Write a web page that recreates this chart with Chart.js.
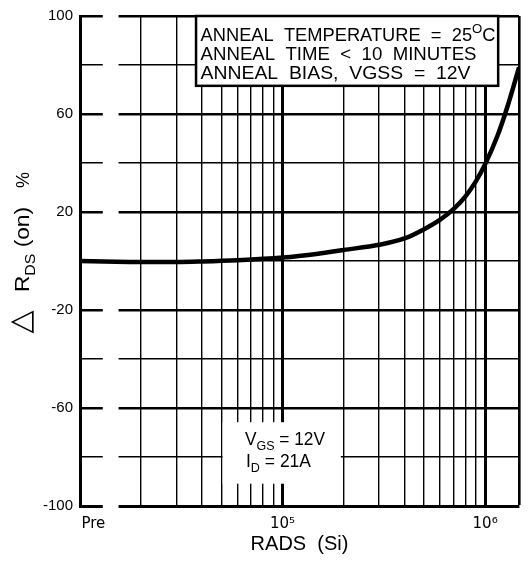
<!DOCTYPE html>
<html>
<head>
<meta charset="utf-8">
<script src="https://cdn.jsdelivr.net/npm/chart.js@4.4.1/dist/chart.umd.min.js"></script>
<style>
  html, body { margin: 0; padding: 0; background: #fff; }
  #wrap { width: 528px; height: 562px; }
</style>
</head>
<body>
<div id="wrap"><canvas id="chart"></canvas></div>
<script>
// curve: total dose (rads Si) vs change in RDS(on), %
const radsSi = [1e4, 1.5e4, 2e4, 3e4, 4e4, 6e4, 1e5, 1.5e5, 2e5, 3e5, 4e5, 5e5, 6e5, 7e5, 8e5, 9e5, 1e6, 1.15e6, 1.3e6, 1.47e6];
const deltaRdsOn = [0, -0.3, -0.4, -0.4, -0.2, 0.3, 1.4, 3, 4.5, 6.6, 9.2, 13, 16.9, 21.3, 26.4, 32.5, 39.5, 51, 64, 79];

// axes
const xRange = [1e4, 1.47e6];
const xLabelValues = [1.164e4, 1e5, 1e6];
const xLabelTexts = ["Pre", "10\u2075", "10\u2076"];
const xMinorValues = [2e4, 3e4, 4e4, 5e4, 6e4, 7e4, 8e4, 9e4, 2e5, 3e5, 4e5, 5e5, 6e5, 7e5, 8e5, 9e5];
const yRange = [-100, 100];
const yLabels = [100, 60, 20, -20, -60, -100];

// text blocks, as runs: [text, kind]
const annealLines = [
  [["ANNEAL  TEMPERATURE  =  25", ""], ["O", "sup"], ["C", ""]],
  [["ANNEAL  TIME  <  10  MINUTES", ""]],
  [["ANNEAL  BIAS,  VGSS  =  12V", ""]],
];
const biasLines = [
  [["V", ""], ["GS", "sub"], [" = 12V", ""]],
  [["I", ""], ["D", "sub"], [" = 21A", ""]],
];

// placement of the boxes in data units
const axisBreak = [1.296e4, 1.55e4];
const annealBox = { x: [3.74e4, 1.16e6], y: [100, 71.5] };
const biasBox = { x: [5.06e4, 1.94e5], y: [-65.8, -90.9] };

const SANS = "'Liberation Sans', Arial, sans-serif";
const NARROW = "'Liberation Sans Narrow', 'Liberation Sans', Arial, sans-serif";

function drawRuns(ctx, runs, x, base, size, family, width) {
  const fontFor = k => (k ? Math.round(size * 0.72) : size) + "px " + family;
  let total = 0;
  const widths = runs.map(([t, k]) => {
    ctx.font = fontFor(k);
    const w = ctx.measureText(t).width;
    total += w;
    return w;
  });
  ctx.save();
  ctx.translate(x, base);
  if (width) ctx.scale(width / total, 1);
  ctx.textBaseline = "alphabetic";
  ctx.textAlign = "left";
  let cx = 0;
  runs.forEach(([t, k], i) => {
    ctx.font = fontFor(k);
    const dy = k === "sup" ? -size * 0.42 : k === "sub" ? size * 0.28 : 0;
    ctx.fillText(t, cx, dy);
    cx += widths[i];
  });
  ctx.restore();
  return total;
}

const overlay = {
  id: "overlay",
  beforeDatasetsDraw(chart) {
    const { ctx, chartArea: a, scales: { x, y } } = chart;
    ctx.save();
    ctx.fillStyle = "#fff";
    // break in the grid between "Pre" and the dose scale
    const b0 = x.getPixelForValue(axisBreak[0]);
    const b1 = x.getPixelForValue(axisBreak[1]);
    ctx.fillRect(b0, a.top - 3, b1 - b0, a.bottom - a.top + 6);

    // anneal conditions box
    const ax0 = x.getPixelForValue(annealBox.x[0]), ax1 = x.getPixelForValue(annealBox.x[1]);
    const ay0 = y.getPixelForValue(annealBox.y[0]), ay1 = y.getPixelForValue(annealBox.y[1]);
    ctx.fillRect(ax0, ay0, ax1 - ax0, ay1 - ay0);
    ctx.strokeStyle = "#000";
    ctx.lineWidth = 2.5;
    ctx.strokeRect(ax0, ay0, ax1 - ax0, ay1 - ay0);
    ctx.fillStyle = "#000";
    const annealWidths = [295, 276, 270];
    annealLines.forEach((runs, i) => {
      drawRuns(ctx, runs, ax0 + 4.5, ay0 + 25 + i * 19, 18, SANS, annealWidths[i]);
    });

    // bias conditions, blank patch in the grid
    const bx0 = x.getPixelForValue(biasBox.x[0]), bx1 = x.getPixelForValue(biasBox.x[1]);
    const by0 = y.getPixelForValue(biasBox.y[0]), by1 = y.getPixelForValue(biasBox.y[1]);
    ctx.fillStyle = "#fff";
    ctx.fillRect(bx0, by0, bx1 - bx0, by1 - by0);
    ctx.fillStyle = "#000";
    drawRuns(ctx, biasLines[0], 245, 445, 18, NARROW, 80);
    drawRuns(ctx, biasLines[1], 246, 467, 18, NARROW, 65);
    ctx.restore();
  },
  afterDraw(chart) {
    const ctx = chart.ctx;
    ctx.save();
    ctx.fillStyle = "#000";
    // triangle (delta)
    ctx.save();
    ctx.translate(22.5, 322);
    ctx.rotate(-Math.PI / 2);
    ctx.font = "30px 'DejaVu Sans', sans-serif";
    ctx.textAlign = "center";
    ctx.textBaseline = "middle";
    ctx.fillText("\u25B3", 0, 0);
    ctx.restore();
    // R_DS (on)
    ctx.save();
    ctx.translate(29, 292);
    ctx.rotate(-Math.PI / 2);
    drawRuns(ctx, [["R", ""], ["DS", "sub"], [" (on)", ""]], 0, 0, 20, SANS, 85);
    ctx.restore();
    // %
    ctx.save();
    ctx.translate(29, 188);
    ctx.rotate(-Math.PI / 2);
    drawRuns(ctx, [["%", ""]], 0, 0, 18, SANS, 0);
    ctx.restore();
    ctx.restore();
  }
};

new Chart(document.getElementById("chart"), {
  type: "line",
  data: {
    datasets: [{
      data: radsSi.map((v, i) => ({ x: v, y: deltaRdsOn[i] })),
      borderColor: "#000",
      borderWidth: 4.5,
      pointRadius: 0,
      fill: false,
      cubicInterpolationMode: "monotone",
    }],
  },
  options: {
    responsive: true,
    maintainAspectRatio: false,
    animation: false,
    layout: { padding: { left: 0, right: 7, top: 12, bottom: 0 } },
    plugins: { legend: { display: false }, tooltip: { enabled: false } },
    scales: {
      x: {
        type: "logarithmic",
        min: xRange[0],
        max: xRange[1],
        afterBuildTicks: s => {
          s.ticks = [...xLabelValues, ...xMinorValues, xRange[1]]
            .sort((a, b) => a - b)
            .map(v => ({ value: v }));
        },
        afterFit: s => { s.height = 56; },
        ticks: {
          autoSkip: false,
          maxRotation: 0,
          padding: 9,
          color: "#000",
          font: { family: "'DejaVu Sans', sans-serif", size: 15 },
          callback: v => {
            const i = xLabelValues.indexOf(v);
            return i >= 0 ? xLabelTexts[i] : "";
          },
        },
        grid: {
          drawTicks: false,
          color: c => (c.tick && c.tick.value === xLabelValues[0] ? "rgba(0,0,0,0)" : "#000"),
          lineWidth: c => {
            const v = c.tick ? c.tick.value : 0;
            if (v === 1e5 || v === 1e6) return 3;
            if (v === xRange[1]) return 2.6;
            return 1.4;
          },
        },
        border: { color: "#000", width: 3 },
        title: {
          display: true,
          text: "RADS  (Si)",
          color: "#000",
          font: { family: SANS, size: 20 },
          padding: { top: 0, bottom: 6 },
        },
      },
      y: {
        min: yRange[0],
        max: yRange[1],
        afterFit: s => { s.width = 80; },
        ticks: {
          stepSize: 20,
          padding: 7,
          color: "#000",
          font: { family: NARROW, size: 15 },
          callback: v => (yLabels.includes(v) ? String(v) : ""),
        },
        grid: {
          drawTicks: false,
          color: "#000",
          lineWidth: c => (c.tick && yLabels.includes(c.tick.value) ? 2.6 : 1.4),
        },
        border: { color: "#000", width: 3 },
      },
    },
  },
  plugins: [overlay],
});
</script>
</body>
</html>
